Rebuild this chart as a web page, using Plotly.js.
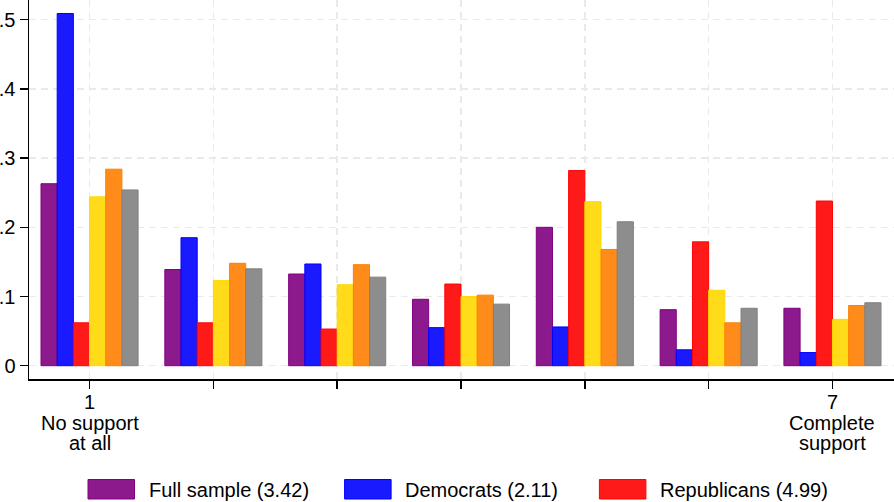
<!DOCTYPE html>
<html>
<head>
<meta charset="utf-8">
<script src="https://cdn.plot.ly/plotly-3.0.1.min.js"></script>
<style>html,body{margin:0;padding:0;background:#fff;}#chart{width:894px;height:502px;}</style>
</head>
<body>
<div id="chart"></div>
<script>
// ---- data ----
const categories = [1, 2, 3, 4, 5, 6, 7];
const tickText = ["1", "", "", "", "", "", "7"];
const endLabels = [["No support", "at all"], ["Complete", "support"]];
const yTickVals = [0, 0.1, 0.2, 0.3, 0.4, 0.5];
const yTickText = ["0", ".1", ".2", ".3", ".4", ".5"];

const seriesNames = ["Full sample (3.42)", "Democrats (2.11)", "Republicans (4.99)", "Series 4", "Series 5", "Series 6"];
const fullSample  = [0.263, 0.139, 0.1325, 0.096, 0.200, 0.081, 0.083];
const democrats   = [0.509, 0.185, 0.147, 0.055, 0.056, 0.023, 0.019];
const republicans = [0.062, 0.062, 0.053, 0.118, 0.282, 0.179, 0.238];
const series4     = [0.244, 0.123, 0.117, 0.100, 0.237, 0.109, 0.067];
const series5     = [0.284, 0.148, 0.146, 0.102, 0.168, 0.062, 0.087];
const series6     = [0.254, 0.140, 0.128, 0.089, 0.208, 0.083, 0.091];
const legendCount = 3;

// ---- styles ----
const fills = ["rgb(141,26,141)", "rgb(26,26,255)", "rgb(255,26,26)", "rgb(255,219,26)", "rgb(255,140,26)", "rgb(141,141,141)"];
const lines = ["rgb(128,0,128)", "rgb(0,0,255)", "rgb(255,0,0)", "rgb(255,215,0)", "rgb(255,127,0)", "rgb(128,128,128)"];
const FONT = "Liberation Sans, Arial, sans-serif";

const allSeries = [fullSample, democrats, republicans, series4, series5, series6];
const traces = allSeries.map((vals, i) => ({
  type: "bar",
  x: categories,
  y: vals,
  name: seriesNames[i],
  showlegend: false,
  marker: {color: fills[i], line: {color: lines[i], width: 1}}
}));

// plot geometry (pixels) for paper conversions
const L = 29, R = 0, T = 0, B = 123, W = 894, H = 502;
const pw = W - L - R, ph = H - T - B;
const px2x = X => (X - L) / pw;
const px2y = Y => (T + ph - Y) / ph;

const annotations = [];
[[1, endLabels[0]], [7, endLabels[1]]].forEach(([xv, lbls]) => {
  const ys = [423, 443.5];
  lbls.forEach((t, k) => annotations.push({
    x: xv, xref: "x", y: px2y(ys[k]), yref: "paper",
    text: t, showarrow: false, xanchor: "center", yanchor: "middle",
    font: {family: FONT, size: 20, color: "#000"}
  }));
});

// custom legend (large swatches)
const shapes = [];
const swX = [88, 344.6, 599.4];
for (let i = 0; i < legendCount; i++) {
  shapes.push({
    type: "rect", xref: "paper", yref: "paper",
    x0: px2x(swX[i]), x1: px2x(swX[i] + 46.5),
    y0: px2y(499), y1: px2y(479.5),
    fillcolor: fills[i], line: {color: lines[i], width: 1}
  });
  annotations.push({
    x: px2x(swX[i] + 58.5), xref: "paper", y: px2y(489.5), yref: "paper",
    text: seriesNames[i], showarrow: false, xanchor: "left", yanchor: "middle",
    font: {family: FONT, size: 20, color: "#000"}
  });
}

const layout = {
  width: W, height: H,
  margin: {l: L, r: R, t: T, b: B, pad: 0},
  paper_bgcolor: "#fff", plot_bgcolor: "#fff",
  font: {family: FONT, size: 20, color: "#000"},
  barmode: "group", bargap: 0.216, bargroupgap: 0,
  showlegend: false,
  xaxis: {
    range: [0.511, 7.497],
    tickmode: "array", tickvals: categories, ticktext: tickText,
    ticks: "outside", ticklen: 8, tickwidth: 1.5, tickcolor: "#000",
    ticklabelstandoff: -4,
    showline: true, linecolor: "#000", linewidth: 1.5,
    showgrid: true, gridcolor: "#eaeaea", gridwidth: 1.5, griddash: "7px,5px",
    zeroline: false, tickfont: {family: FONT, size: 20, color: "#000"}
  },
  yaxis: {
    range: [-0.0192, 0.5285],
    tickmode: "array", tickvals: yTickVals, ticktext: yTickText,
    ticks: "outside", ticklen: 8, tickwidth: 1.5, tickcolor: "#000",
    showline: true, linecolor: "#000", linewidth: 1.5,
    showgrid: true, gridcolor: "#eaeaea", gridwidth: 1.5, griddash: "7px,5px",
    zeroline: false, tickfont: {family: FONT, size: 20, color: "#000"}
  },
  annotations: annotations,
  shapes: shapes
};

Plotly.newPlot("chart", traces, layout, {displayModeBar: false, staticPlot: true});
</script>
</body>
</html>
